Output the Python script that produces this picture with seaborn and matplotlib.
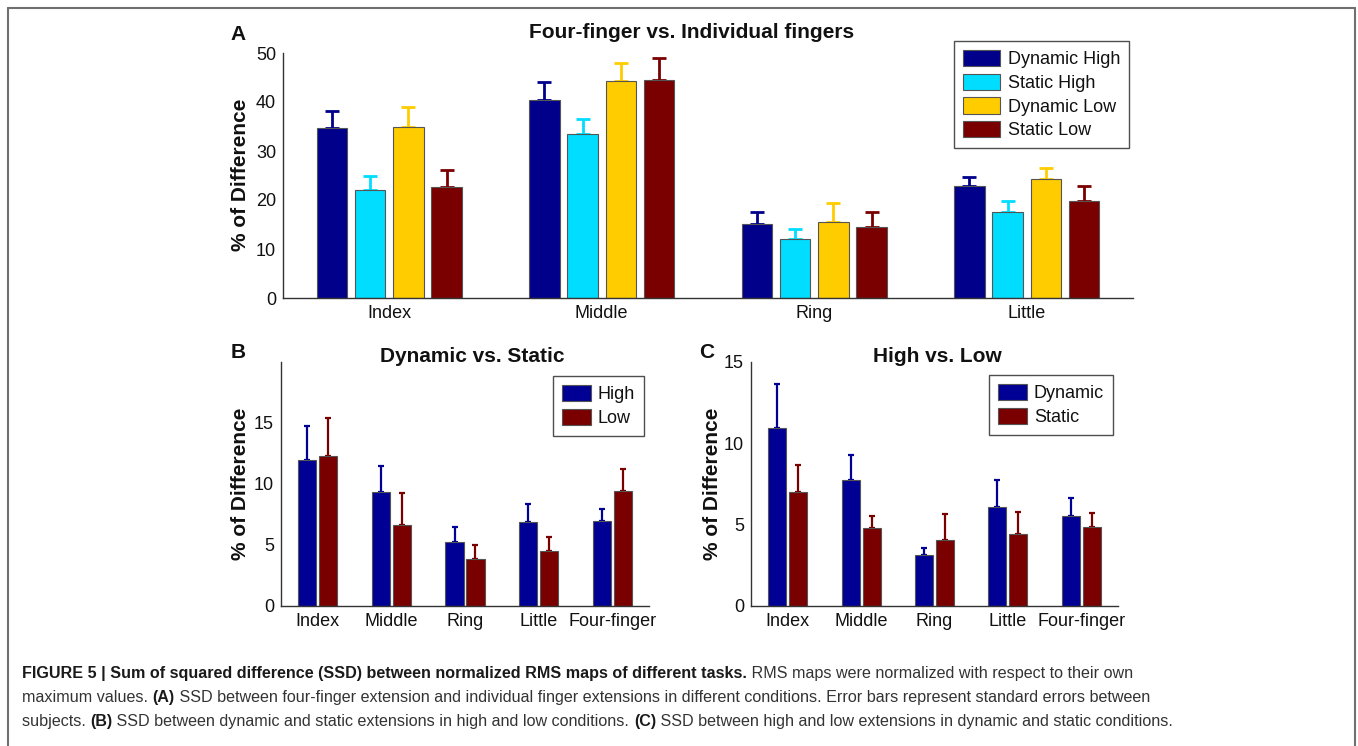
import numpy as np
import pandas as pd
import matplotlib
matplotlib.use("Agg")
import matplotlib.pyplot as plt
from matplotlib import font_manager as fm
from matplotlib.lines import Line2D
import seaborn as sns

# ---------------- data ----------------
fingers_a = ["Index", "Middle", "Ring", "Little"]
conds_a = ["Dynamic High", "Static High", "Dynamic Low", "Static Low"]
a_dyn_high = [34.6, 40.5, 15.1, 22.9]
a_dyn_high_se = [3.6, 3.6, 2.5, 1.7]
a_sta_high = [22.0, 33.4, 12.0, 17.6]
a_sta_high_se = [2.9, 3.1, 2.0, 2.2]
a_dyn_low = [35.0, 44.2, 15.6, 24.2]
a_dyn_low_se = [4.0, 3.7, 3.8, 2.4]
a_sta_low = [22.6, 44.4, 14.4, 19.8]
a_sta_low_se = [3.5, 4.5, 3.2, 3.1]

fingers_bc = ["Index", "Middle", "Ring", "Little", "Four-finger"]
conds_b = ["High", "Low"]
b_high = [11.9, 9.27, 5.19, 6.85, 6.95]
b_high_se = [2.8, 2.13, 1.22, 1.46, 0.98]
b_low = [12.2, 6.63, 3.80, 4.51, 9.40]
b_low_se = [3.15, 2.61, 1.17, 1.11, 1.80]

conds_c = ["Dynamic", "Static"]
c_dyn = [10.96, 7.76, 3.13, 6.06, 5.55]
c_dyn_se = [2.70, 1.50, 0.41, 1.66, 1.11]
c_sta = [7.01, 4.77, 4.08, 4.45, 4.86]
c_sta_se = [1.68, 0.74, 1.55, 1.35, 0.86]

# ---------------- style ----------------
sns.set_style("white")
names = {f.name for f in fm.fontManager.ttflist}
main_font = "Liberation Sans" if "Liberation Sans" in names else "DejaVu Sans"
cap_font = "Liberation Sans Narrow" if "Liberation Sans Narrow" in names else main_font
plt.rcParams["font.family"] = [main_font, "DejaVu Sans"]

W, H = 1358, 746
fig = plt.figure(figsize=(W / 100, H / 100), dpi=100)
fig.patch.set_facecolor("white")


def px_axes(left, top, right, bottom):
    return fig.add_axes([left / W, 1 - bottom / H, (right - left) / W, (bottom - top) / H])


NAVY = "#00008B"
CYAN = "#00DDFF"
GOLD = "#FFCC00"
MAROON = "#7A0000"
BLUE = "#000094"
TICK_FS = 13


def draw_panel(ax, cats, conds, vals, ses, colors, width, gap, capsize, elw, capthick):
    rows = []
    for cname, v in zip(conds, vals):
        for cat, val in zip(cats, v):
            rows.append({"finger": cat, "cond": cname, "value": val})
    df = pd.DataFrame(rows)
    sns.barplot(data=df, x="finger", y="value", hue="cond", order=cats, hue_order=conds,
                palette=colors, width=width, gap=gap, edgecolor="#555555", linewidth=0.8,
                errorbar=None, saturation=1, ax=ax, zorder=2)
    for cont, se, col in zip(ax.containers, ses, colors):
        xs = [b.get_x() + b.get_width() / 2 for b in cont]
        ys = [b.get_height() for b in cont]
        ax.errorbar(xs, ys, yerr=[np.zeros(len(se)), se], fmt="none", ecolor=col,
                    elinewidth=elw, capsize=capsize, capthick=capthick, zorder=1)
    ax.set_xlabel("")
    ax.set_ylabel("")
    for s in ["top", "right"]:
        ax.spines[s].set_visible(False)
    for s in ["left", "bottom"]:
        ax.spines[s].set_color("#333333")
        ax.spines[s].set_linewidth(1.0)
    ax.tick_params(axis="both", direction="in", length=4, width=0.8, color="#333333",
                   labelsize=TICK_FS, labelcolor="#111111", pad=5)
    ax.set_xlim(-0.5, len(cats) - 0.5)


def style_legend(ax, anchor_px, fontsize=13, hl=2.05, hh=1.0):
    handles, labels = ax.get_legend_handles_labels()
    leg = ax.legend(handles, labels, loc="upper right",
                    bbox_to_anchor=(anchor_px[0] / W, 1 - anchor_px[1] / H),
                    bbox_transform=fig.transFigure, borderaxespad=0, frameon=True,
                    fancybox=False, edgecolor="#222222", fontsize=fontsize,
                    handlelength=hl, handleheight=hh, labelspacing=0.3,
                    handletextpad=0.4, borderpad=0.5)
    leg.get_frame().set_linewidth(1.0)
    for t in leg.get_texts():
        t.set_color("#111111")


# ---------------- panel A ----------------
axA = px_axes(283, 53, 1133, 298)
draw_panel(axA, fingers_a, conds_a,
           [a_dyn_high, a_sta_high, a_dyn_low, a_sta_low],
           [a_dyn_high_se, a_sta_high_se, a_dyn_low_se, a_sta_low_se],
           [NAVY, CYAN, GOLD, MAROON], width=0.72, gap=0.2, capsize=5, elw=2.0, capthick=2.0)
axA.set_ylim(0, 50)
axA.set_yticks([0, 10, 20, 30, 40, 50])
style_legend(axA, (1129, 41))

# ---------------- panel B ----------------
axB = px_axes(281, 362, 649, 606)
draw_panel(axB, fingers_bc, conds_b, [b_high, b_low], [b_high_se, b_low_se],
           [BLUE, MAROON], width=0.57, gap=0.14, capsize=2, elw=1.6, capthick=1.6)
axB.set_ylim(0, 19.9)
axB.set_yticks([0, 5, 10, 15])
style_legend(axB, (644, 376), hl=1.6)

# ---------------- panel C ----------------
axC = px_axes(751, 362, 1118, 606)
draw_panel(axC, fingers_bc, conds_c, [c_dyn, c_sta], [c_dyn_se, c_sta_se],
           [BLUE, MAROON], width=0.57, gap=0.14, capsize=2, elw=1.6, capthick=1.6)
axC.set_ylim(0, 15)
axC.set_yticks([0, 5, 10, 15])
style_legend(axC, (1113, 375), hl=1.6)

# ---------------- titles, labels, panel letters ----------------
def ftext(x, y, s, **kw):
    return fig.text(x / W, 1 - y / H, s, **kw)

ftext(692, 33, "Four-finger vs. Individual fingers", ha="center", va="center",
      fontsize=15, fontweight="bold", color="#111111")
ftext(472, 356, "Dynamic vs. Static", ha="center", va="center",
      fontsize=15, fontweight="bold", color="#111111")
ftext(937, 356, "High vs. Low", ha="center", va="center",
      fontsize=15, fontweight="bold", color="#111111")
for x, y in [(240, 175), (240, 484), (713, 484)]:
    ftext(x, y, "% of Difference", ha="center", va="center", rotation=90,
          fontsize=15, fontweight="bold", color="#111111")
ftext(238, 35, "A", ha="center", va="center", fontsize=15, fontweight="bold", color="#111111")
ftext(238, 352, "B", ha="center", va="center", fontsize=15, fontweight="bold", color="#111111")
ftext(707, 352, "C", ha="center", va="center", fontsize=15, fontweight="bold", color="#111111")

# ---------------- frame ----------------
fc = "#707070"
fig.add_artist(Line2D([8 / W, 8 / W], [0, 1 - 8 / H], transform=fig.transFigure, color=fc, lw=1.5))
fig.add_artist(Line2D([8 / W, 1355 / W], [1 - 8 / H, 1 - 8 / H], transform=fig.transFigure, color=fc, lw=1.5))
fig.add_artist(Line2D([1355 / W, 1355 / W], [0, 1 - 8 / H], transform=fig.transFigure, color=fc, lw=1.5))

# ---------------- caption ----------------
caption_lines = [
    [("FIGURE 5 | Sum of squared difference (SSD) between normalized RMS maps of different tasks.", True),
     (" RMS maps were normalized with respect to their own", False)],
    [("maximum values. ", False), ("(A)", True),
     (" SSD between four-finger extension and individual finger extensions in different conditions. Error bars represent standard errors between", False)],
    [("subjects. ", False), ("(B)", True),
     (" SSD between dynamic and static extensions in high and low conditions. ", False), ("(C)", True),
     (" SSD between high and low extensions in dynamic and static conditions.", False)],
]
baselines = [678, 702, 726]
renderer = fig.canvas.get_renderer()


def draw_line(segs, x0, yb, size):
    x = x0
    arts = []
    for txt, bold in segs:
        t = ftext(x, yb, txt, ha="left", va="baseline", fontsize=size,
                  fontweight="bold" if bold else "normal", family=[cap_font, "DejaVu Sans"],
                  color="#1a1a1a" if bold else "#333333")
        x += t.get_window_extent(renderer).width
        arts.append(t)
    return x - x0, arts


w, arts = draw_line(caption_lines[2], 22, baselines[2], 11)
for a in arts:
    a.remove()
size = 11 * (1146 / w)
for segs, yb in zip(caption_lines, baselines):
    draw_line(segs, 22, yb, size)

fig.savefig("out.png", dpi=100, facecolor="white")
